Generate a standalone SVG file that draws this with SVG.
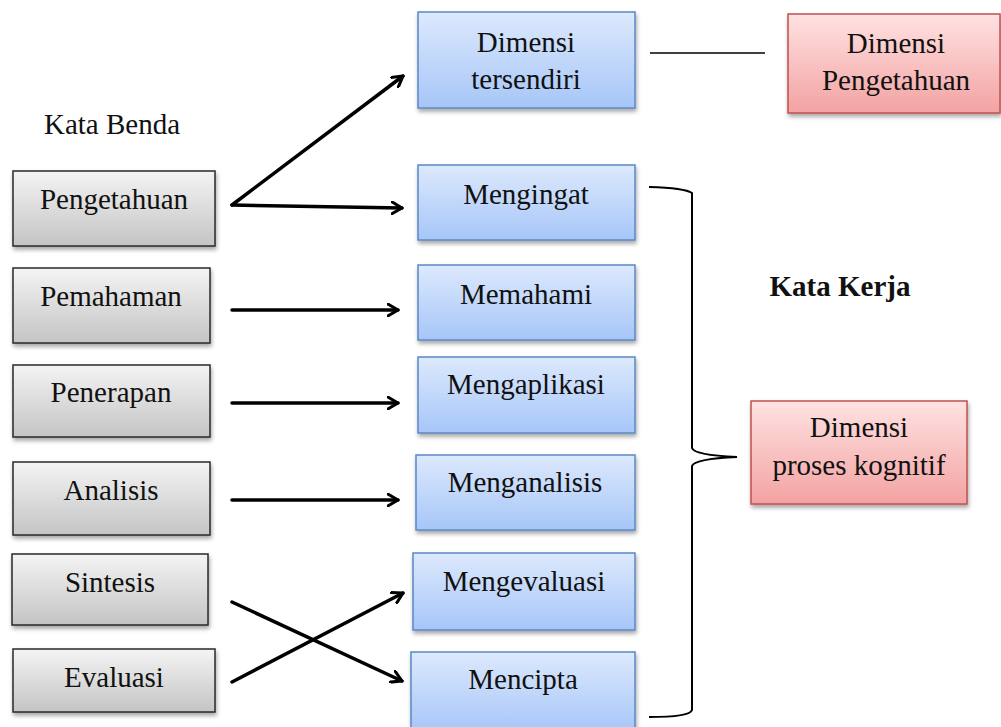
<svg xmlns="http://www.w3.org/2000/svg" width="1001" height="727" viewBox="0 0 1001 727">
<defs>
<linearGradient id="gGray" x1="0" y1="0" x2="0" y2="1"><stop offset="0" stop-color="#f4f4f4"/><stop offset="1" stop-color="#c4c4c4"/></linearGradient>
<linearGradient id="gBlue" x1="0" y1="0" x2="0" y2="1"><stop offset="0" stop-color="#dde9fd"/><stop offset="1" stop-color="#a6c6f8"/></linearGradient>
<linearGradient id="gRed" x1="0" y1="0" x2="0" y2="1"><stop offset="0" stop-color="#ffe2e2"/><stop offset="1" stop-color="#f3a2a2"/></linearGradient>
<filter id="sh" x="-10%" y="-10%" width="130%" height="140%"><feDropShadow dx="1" dy="3" stdDeviation="2" flood-color="#000" flood-opacity="0.35"/></filter>
<marker id="arr" markerWidth="14" markerHeight="14" viewBox="-13 -8 16 16" refX="0" refY="0" orient="auto" markerUnits="userSpaceOnUse"><path d="M-12,-7 L0,0 L-12,7" fill="none" stroke="#000" stroke-width="3.5" stroke-linecap="round" stroke-linejoin="round"/></marker>
</defs>
<style>
text{font-family:"Liberation Serif","Times New Roman",serif;font-size:29px;fill:#111;text-anchor:middle}
.gray{fill:url(#gGray);stroke:#2a2a2a;stroke-width:1.5;filter:url(#sh)}
.blue{fill:url(#gBlue);stroke:#5a88c6;stroke-width:1.5;filter:url(#sh)}
.red{fill:url(#gRed);stroke:#c0504d;stroke-width:1.5;filter:url(#sh)}
.ln{fill:none;stroke:#000;stroke-width:3.5;stroke-linecap:round}
.br{fill:none;stroke:#000;stroke-width:2}
</style>
<text x="112" y="134">Kata Benda</text>
<text x="840" y="296" style="font-weight:bold">Kata Kerja</text>

<g id="n-pengetahuan"><rect class="gray" x="13" y="171" width="202" height="75"/><text x="114" y="209">Pengetahuan</text></g>
<g id="n-pemahaman"><rect class="gray" x="13" y="268" width="197" height="75"/><text x="111" y="306">Pemahaman</text></g>
<g id="n-penerapan"><rect class="gray" x="13" y="365" width="197" height="72"/><text x="111" y="402">Penerapan</text></g>
<g id="n-analisis"><rect class="gray" x="13" y="462" width="197" height="73"/><text x="111" y="500">Analisis</text></g>
<g id="n-sintesis"><rect class="gray" x="12" y="554" width="196" height="71"/><text x="110" y="592">Sintesis</text></g>
<g id="n-evaluasi"><rect class="gray" x="13" y="649" width="202" height="63"/><text x="114" y="687">Evaluasi</text></g>

<g id="n-tersendiri"><rect class="blue" x="418" y="12" width="217" height="96"/><text x="526" y="52">Dimensi</text><text x="526" y="89">tersendiri</text></g>
<g id="n-mengingat"><rect class="blue" x="418" y="165" width="217" height="75"/><text x="526" y="204">Mengingat</text></g>
<g id="n-memahami"><rect class="blue" x="418" y="265" width="217" height="75"/><text x="526" y="304">Memahami</text></g>
<g id="n-mengaplikasi"><rect class="blue" x="418" y="357" width="217" height="76"/><text x="526" y="394">Mengaplikasi</text></g>
<g id="n-menganalisis"><rect class="blue" x="416" y="455" width="219" height="75"/><text x="525" y="492">Menganalisis</text></g>
<g id="n-mengevaluasi"><rect class="blue" x="413" y="553" width="222" height="77"/><text x="524" y="591">Mengevaluasi</text></g>
<g id="n-mencipta"><rect class="blue" x="411" y="652" width="224" height="80"/><text x="523" y="689">Mencipta</text></g>

<g id="n-dimensi-pengetahuan"><rect class="red" x="788" y="14" width="212" height="99"/><text x="896" y="53">Dimensi</text><text x="896" y="90">Pengetahuan</text></g>
<g id="n-dimensi-proses"><rect class="red" x="751" y="401" width="216" height="103"/><text x="859" y="437">Dimensi</text><text x="859" y="475">proses kognitif</text></g>

<g id="connectors">
<line class="ln" x1="232" y1="205" x2="403" y2="76" marker-end="url(#arr)"/>
<line class="ln" x1="232" y1="205" x2="402" y2="208" marker-end="url(#arr)"/>
<line class="ln" x1="232" y1="310" x2="398" y2="310" marker-end="url(#arr)"/>
<line class="ln" x1="232" y1="403" x2="398" y2="403" marker-end="url(#arr)"/>
<line class="ln" x1="232" y1="500" x2="398" y2="500" marker-end="url(#arr)"/>
<line class="ln" x1="232" y1="602" x2="402" y2="681" marker-end="url(#arr)"/>
<line class="ln" x1="232" y1="682" x2="403" y2="593" marker-end="url(#arr)"/>
<line x1="650" y1="53" x2="765" y2="53" stroke="#000" stroke-width="1.5"/>
<path class="br" d="M649,187 Q685,188 692,193 L692,448 Q694,455 737,457 Q694,459 692,466 L692,710 Q690,717 649,717"/>
</g>
</svg>
